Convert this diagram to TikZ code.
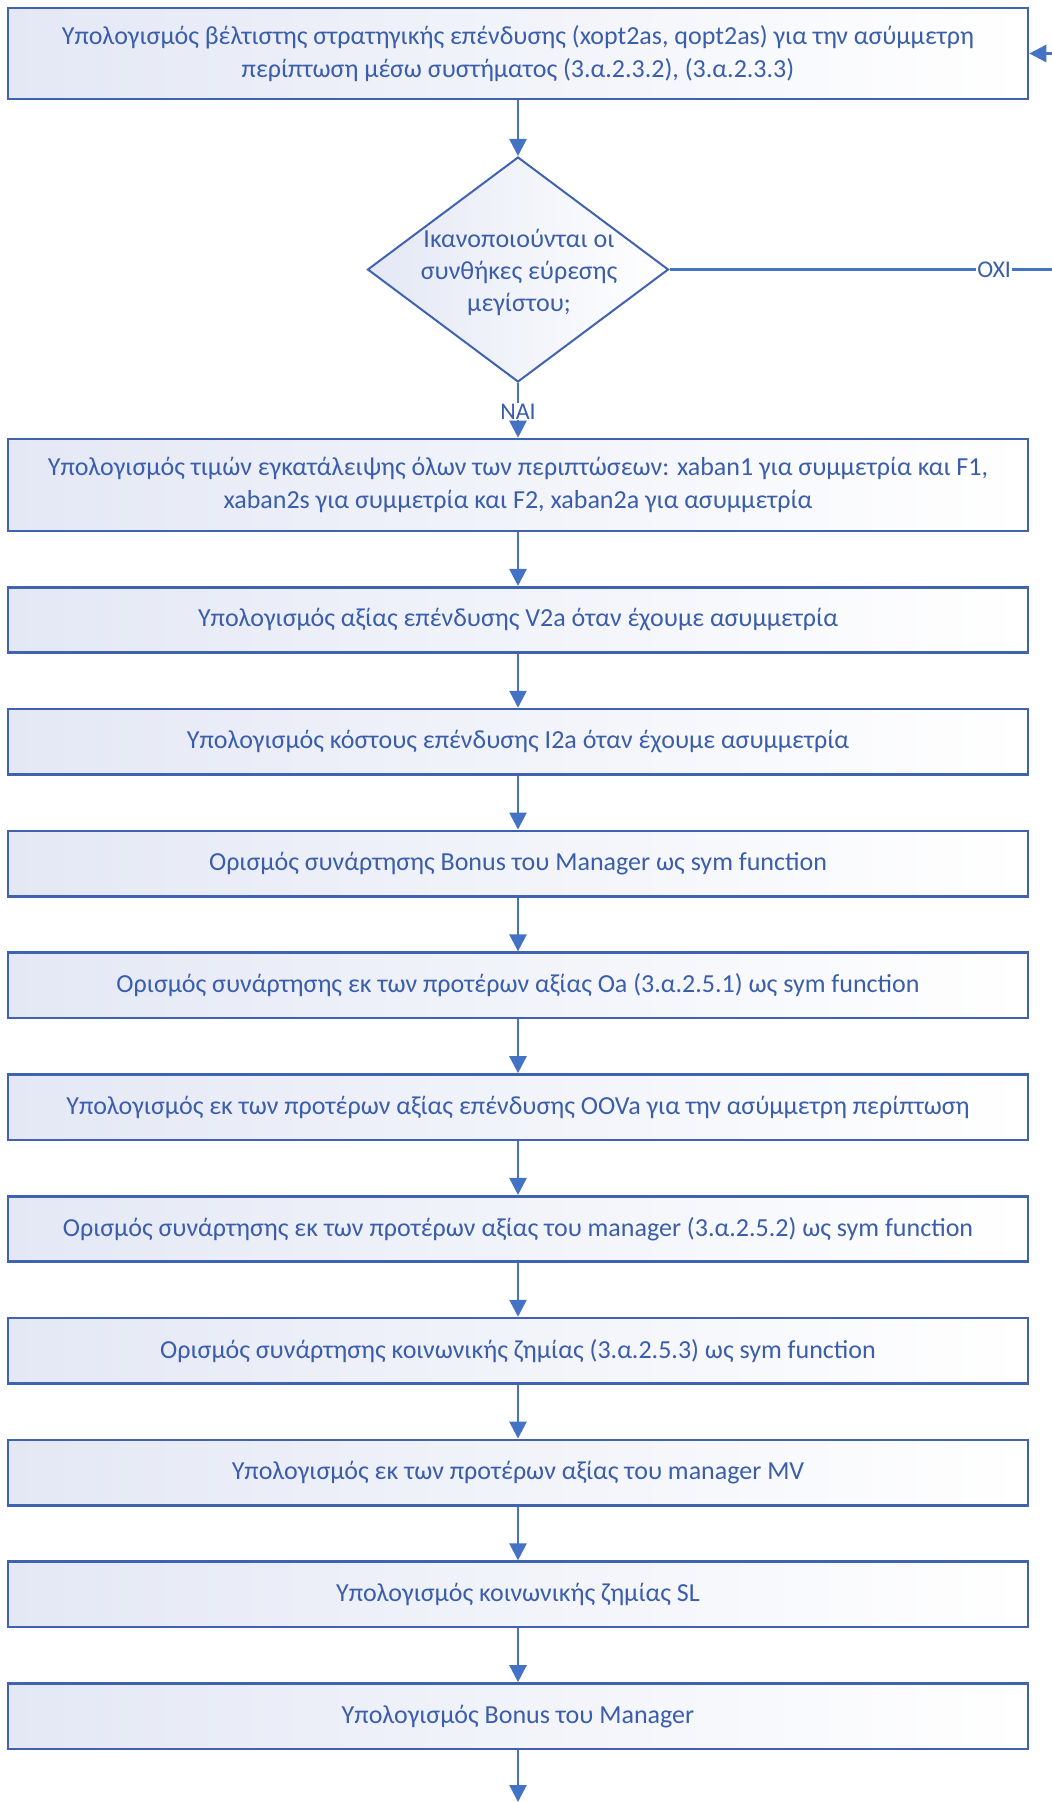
\documentclass[tikz,border=0pt]{standalone}
\usepackage{fontspec}
\setmainfont{Carlito}
\usetikzlibrary{shapes.geometric,arrows.meta}

\definecolor{flowblue}{RGB}{68,114,196}
\definecolor{edgeblue}{RGB}{63,99,176}
\definecolor{textblue}{RGB}{58,94,172}
\definecolor{boxfill}{RGB}{228,232,245}

\tikzset{
  stepbox/.style={draw=edgeblue, line width=2.6pt, left color=boxfill, right color=white,
    minimum width=1020pt, minimum height=65.5pt, inner sep=0pt,
    align=center, text=textblue, font=\fontsize{26}{33}\selectfont},
  decision/.style={diamond, draw=edgeblue, line width=2pt, left color=boxfill, right color=white,
    minimum width=301pt, minimum height=225pt, inner sep=0pt},
  decisiontext/.style={align=center, text=textblue, font=\fontsize{26}{32}\selectfont},
  flow/.style={draw=flowblue, line width=2.6pt, -{Triangle[length=17pt,width=17pt]}},
  plainflow/.style={draw=flowblue, line width=2.6pt},
  branchlabel/.style={fill=white, inner sep=1pt, text=textblue, font=\fontsize{24}{28}\selectfont}
}

\begin{document}
\begin{tikzpicture}[x=1pt,y=-1pt]
  \useasboundingbox (0,0) rectangle (1052,1802);

  % first computation and decision
  \node[stepbox, minimum height=91pt] (b1) at (518,53.5)
    {Υπολογισμός βέλτιστης στρατηγικής επένδυσης (xopt2as, qopt2as) για την ασύμμετρη\\
     περίπτωση μέσω συστήματος (3.α.2.3.2), (3.α.2.3.3)};
  \node[decision] (d1) at (518,269.5) {};
  \node[decisiontext] (d1t) at (519,272) {Ικανοποιούνται οι\\ συνθήκες εύρεσης\\ μεγίστου;};

  \node[stepbox, minimum height=92pt] (b2) at (518,485)
    {Υπολογισμός τιμών εγκατάλειψης όλων των περιπτώσεων: xaban1 για συμμετρία και F1,\\
     xaban2s για συμμετρία και F2, xaban2a για ασυμμετρία};

  % sequential steps
  \node[stepbox] (b3)  at (518,620)    {Υπολογισμός αξίας επένδυσης V2a όταν έχουμε ασυμμετρία};
  \node[stepbox] (b4)  at (518,741.8)  {Υπολογισμός κόστους επένδυσης I2a όταν έχουμε ασυμμετρία};
  \node[stepbox] (b5)  at (518,863.6)  {Ορισμός συνάρτησης Bonus του Manager ως sym function};
  \node[stepbox] (b6)  at (518,985.4)  {Ορισμός συνάρτησης εκ των προτέρων αξίας Oa (3.α.2.5.1) ως sym function};
  \node[stepbox] (b7)  at (518,1107.2) {Υπολογισμός εκ των προτέρων αξίας επένδυσης OOVa για την ασύμμετρη περίπτωση};
  \node[stepbox] (b8)  at (518,1229)   {Ορισμός συνάρτησης εκ των προτέρων αξίας του manager (3.α.2.5.2) ως sym function};
  \node[stepbox] (b9)  at (518,1350.8) {Ορισμός συνάρτησης κοινωνικής ζημίας (3.α.2.5.3) ως sym function};
  \node[stepbox] (b10) at (518,1472.6) {Υπολογισμός εκ των προτέρων αξίας του manager MV};
  \node[stepbox] (b11) at (518,1594.4) {Υπολογισμός κοινωνικής ζημίας SL};
  \node[stepbox] (b12) at (518,1716.2) {Υπολογισμός Bonus του Manager};

  \coordinate (loopA) at (1056,269.5);
  \coordinate (loopB) at (1056,53.5);
  \coordinate (endpt) at (518,1802);

  % connectors
  \draw[flow] (b1) -- (d1);
  \draw[flow] (d1) -- node[branchlabel, pos=0.52] (yes) {ΝΑΙ} (b2);
  \draw[plainflow] (d1.east) -- node[branchlabel, pos=0.84] (no) {ΟΧΙ} (loopA);
  \draw[flow] (loopA) -- (loopB) -- (b1.east);
  \draw[flow] (b2) -- (b3);
  \draw[flow] (b3) -- (b4);
  \draw[flow] (b4) -- (b5);
  \draw[flow] (b5) -- (b6);
  \draw[flow] (b6) -- (b7);
  \draw[flow] (b7) -- (b8);
  \draw[flow] (b8) -- (b9);
  \draw[flow] (b9) -- (b10);
  \draw[flow] (b10) -- (b11);
  \draw[flow] (b11) -- (b12);
  \draw[flow] (b12) -- (endpt);
\end{tikzpicture}
\end{document}
